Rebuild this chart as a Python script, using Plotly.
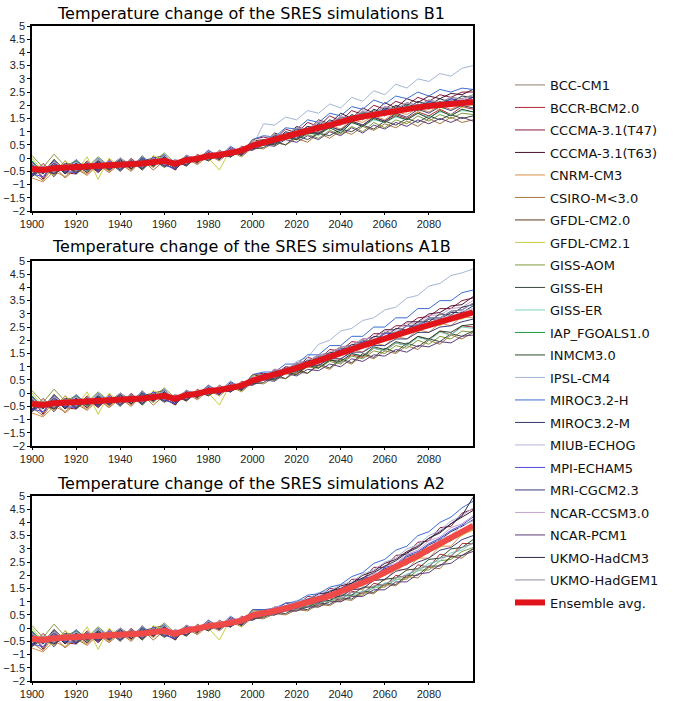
import plotly.graph_objects as go

YEARS = [1900, 1905, 1910, 1915, 1920, 1925, 1930, 1935, 1940, 1945, 1950, 1955, 1960, 1965, 1970,
         1975, 1980, 1985, 1990, 1995, 2000, 2005, 2010, 2015, 2020, 2025, 2030, 2035, 2040, 2045,
         2050, 2055, 2060, 2065, 2070, 2075, 2080, 2085, 2090, 2095, 2100]

MODELS = ["BCC-CM1", "BCCR-BCM2.0", "CCCMA-3.1(T47)", "CCCMA-3.1(T63)", "CNRM-CM3", "CSIRO-M<3.0",
          "GFDL-CM2.0", "GFDL-CM2.1", "GISS-AOM", "GISS-EH", "GISS-ER", "IAP_FGOALS1.0", "INMCM3.0",
          "IPSL-CM4", "MIROC3.2-H", "MIROC3.2-M", "MIUB-ECHOG", "MPI-ECHAM5", "MRI-CGCM2.3",
          "NCAR-CCSM3.0", "NCAR-PCM1", "UKMO-HadCM3", "UKMO-HadGEM1"]

COLORS = ["#8f8070", "#b02a35", "#8c1840", "#4a1430", "#d9904a", "#a8743e", "#5c3a1c", "#c8cc40",
          "#7f9c3c", "#3c4a3e", "#78d4bc", "#1f9a40", "#2c4a2c", "#a4b6d6", "#3c6cd4", "#2e3a68",
          "#b6b6dc", "#4c4ce0", "#3c3c7c", "#c4a4cc", "#5e3c7c", "#2c2c48", "#8e8e9c"]

# 1900-2000 (20th-century runs), 5-year samples
HIST = {
    "BCC-CM1":        [-0.1, -0.75, -0.05, -0.6, -0.15, -0.55, -0.05, -0.5, -0.05, -0.45, 0.1, -0.35, 0.1, -0.45, 0.12, -0.2, 0.3, -0.05, 0.4, 0.1, 0.6],
    "BCCR-BCM2.0":    [-0.65, -0.2, -0.6, -0.1, -0.55, -0.1, -0.5, -0.05, -0.45, 0.0, -0.4, 0.05, -0.3, -0.05, -0.3, 0.15, -0.1, 0.3, 0.05, 0.45, 0.3],
    "CCCMA-3.1(T47)": [-0.2, -0.8, -0.15, -0.55, -0.6, -0.2, -0.55, -0.15, -0.4, -0.05, -0.35, 0.0, -0.2, -0.45, 0.1, -0.2, 0.25, -0.05, 0.4, 0.15, 0.7],
    "CCCMA-3.1(T63)": [-0.6, -0.3, -0.7, -0.2, -0.25, -0.55, -0.1, -0.45, -0.15, -0.4, -0.05, -0.3, 0.05, -0.35, 0.05, -0.15, 0.2, -0.05, 0.35, 0.1, 0.55],
    "CNRM-CM3":       [-0.75, -0.9, -0.5, -0.7, -0.35, -0.6, -0.2, -0.5, -0.15, -0.45, -0.1, -0.35, 0.0, -0.4, 0.05, -0.2, 0.15, 0.0, 0.3, 0.2, 0.55],
    "CSIRO-M<3.0":    [-0.55, -0.85, -0.3, -0.75, -0.4, -0.65, -0.25, -0.55, -0.2, -0.5, -0.05, -0.45, -0.1, -0.4, 0.0, -0.25, 0.1, -0.1, 0.25, 0.05, 0.4],
    "GFDL-CM2.0":     [-0.15, -0.55, -0.05, -0.45, -0.1, -0.4, -0.2, -0.35, 0.0, -0.3, -0.1, 0.0, 0.1, -0.45, 0.1, -0.05, 0.25, 0.0, 0.35, 0.25, 0.65],
    "GFDL-CM2.1":     [0.0, -0.5, -0.65, -0.1, -0.5, 0.05, -0.8, 0.0, -0.35, -0.05, -0.45, 0.1, -0.1, -0.2, -0.1, 0.1, 0.0, -0.45, 0.35, 0.05, 0.7],
    "GISS-AOM":       [0.1, -0.35, 0.15, -0.3, -0.1, -0.35, 0.05, -0.3, 0.0, -0.25, -0.05, -0.15, 0.2, -0.2, 0.1, -0.1, 0.2, 0.05, 0.3, 0.15, 0.45],
    "GISS-EH":        [-0.6, -0.35, -0.55, -0.2, -0.55, -0.2, -0.45, -0.15, -0.4, -0.1, -0.4, -0.05, -0.3, -0.15, -0.25, 0.05, -0.05, 0.15, 0.05, 0.3, 0.35],
    "GISS-ER":        [-0.3, -0.6, -0.25, -0.45, -0.2, -0.45, -0.15, -0.4, -0.15, -0.35, -0.05, -0.3, 0.05, -0.35, 0.0, -0.1, 0.2, 0.0, 0.3, 0.15, 0.5],
    "IAP_FGOALS1.0":  [-0.1, -0.55, -0.15, -0.5, -0.1, -0.5, -0.05, -0.4, -0.05, -0.35, 0.0, -0.3, 0.1, -0.3, 0.05, -0.1, 0.2, 0.0, 0.35, 0.2, 0.55],
    "INMCM3.0":       [-0.7, -0.4, -0.6, -0.25, -0.6, -0.25, -0.5, -0.15, -0.5, -0.1, -0.45, -0.05, -0.35, -0.1, -0.3, 0.05, -0.1, 0.15, 0.05, 0.3, 0.35],
    "IPSL-CM4":       [-0.45, -0.3, -0.5, -0.25, -0.45, -0.2, -0.4, -0.15, -0.35, -0.1, -0.3, 0.0, -0.25, -0.05, -0.2, 0.1, 0.0, 0.25, 0.15, 0.4, 0.45],
    "MIROC3.2-H":     [-0.15, -0.6, -0.1, -0.5, -0.05, -0.45, 0.0, -0.35, 0.0, -0.3, 0.05, -0.25, 0.15, -0.35, 0.1, -0.05, 0.3, 0.05, 0.45, 0.2, 0.7],
    "MIROC3.2-M":     [-0.65, -0.35, -0.6, -0.3, -0.5, -0.2, -0.45, -0.15, -0.4, -0.1, -0.35, -0.05, -0.25, -0.4, -0.05, -0.15, 0.15, 0.0, 0.3, 0.15, 0.5],
    "MIUB-ECHOG":     [-0.25, -0.55, -0.2, -0.45, -0.15, -0.45, -0.15, -0.4, -0.05, -0.35, -0.05, -0.3, 0.05, -0.3, 0.05, -0.1, 0.2, 0.0, 0.3, 0.2, 0.55],
    "MPI-ECHAM5":     [-0.6, -0.7, -0.25, -0.5, -0.55, -0.15, -0.5, -0.1, -0.45, -0.05, -0.35, 0.05, -0.25, -0.4, 0.05, -0.15, 0.2, 0.05, 0.35, 0.15, 0.5],
    "MRI-CGCM2.3":    [-0.25, -0.6, -0.15, -0.55, -0.2, -0.45, -0.1, -0.45, -0.1, -0.4, -0.05, -0.3, 0.05, -0.3, 0.0, -0.1, 0.15, -0.05, 0.3, 0.1, 0.45],
    "NCAR-CCSM3.0":   [-0.2, -0.5, -0.15, -0.4, -0.15, -0.4, -0.05, -0.35, 0.0, -0.3, 0.0, -0.25, 0.1, -0.25, 0.1, -0.05, 0.25, 0.05, 0.35, 0.25, 0.6],
    "NCAR-PCM1":      [-0.65, -0.45, -0.6, -0.25, -0.55, -0.2, -0.5, -0.15, -0.45, -0.15, -0.4, -0.05, -0.3, -0.15, -0.25, 0.05, -0.05, 0.15, 0.05, 0.3, 0.3],
    "UKMO-HadCM3":    [-0.3, -0.55, -0.2, -0.6, -0.2, -0.45, -0.15, -0.4, -0.05, -0.4, 0.0, -0.3, 0.05, -0.35, 0.05, -0.15, 0.2, 0.0, 0.3, 0.15, 0.5],
    "UKMO-HadGEM1":   [-0.5, -0.3, -0.55, -0.2, -0.5, -0.15, -0.4, -0.15, -0.4, -0.05, -0.35, 0.0, -0.25, -0.1, -0.2, 0.1, -0.05, 0.25, 0.1, 0.4, 0.4],
}

# 2005-2100 scenario runs, 5-year samples
B1 = {
    "BCC-CM1":        [0.5, 0.8, 0.7, 1.05, 0.95, 1.3, 1.15, 1.5, 1.35, 1.7, 1.55, 1.85, 1.7, 2.0, 1.8, 2.1, 1.9, 2.2, 1.95, 2.2],
    "BCCR-BCM2.0":    [0.65, 0.5, 0.85, 0.7, 1.05, 0.9, 1.2, 1.05, 1.4, 1.25, 1.55, 1.4, 1.65, 1.5, 1.75, 1.6, 1.85, 1.65, 1.95, 1.85],
    "CCCMA-3.1(T47)": [0.8, 0.7, 1.1, 0.95, 1.35, 1.2, 1.6, 1.4, 1.8, 1.65, 2.0, 1.85, 2.15, 2.0, 2.3, 2.15, 2.4, 2.3, 2.5, 2.5],
    "CCCMA-3.1(T63)": [0.55, 0.95, 0.8, 1.2, 1.05, 1.45, 1.3, 1.7, 1.5, 1.9, 1.7, 2.1, 1.9, 2.25, 2.1, 2.35, 2.25, 2.45, 2.4, 2.6],
    "CNRM-CM3":       [0.6, 0.55, 0.8, 0.75, 1.05, 0.95, 1.25, 1.1, 1.45, 1.35, 1.6, 1.45, 1.75, 1.65, 1.9, 1.75, 2.0, 1.85, 2.05, 2.0],
    "CSIRO-M<3.0":    [0.35, 0.6, 0.5, 0.75, 0.6, 0.95, 0.75, 1.05, 0.9, 1.2, 1.05, 1.3, 1.15, 1.4, 1.2, 1.5, 1.3, 1.55, 1.35, 1.45],
    "GFDL-CM2.0":     [0.7, 0.6, 0.95, 0.85, 1.2, 1.0, 1.4, 1.25, 1.6, 1.45, 1.8, 1.6, 1.95, 1.75, 2.05, 1.85, 2.15, 1.95, 2.2, 2.1],
    "GFDL-CM2.1":     [0.5, 0.85, 0.7, 1.05, 0.9, 1.25, 1.1, 1.45, 1.3, 1.65, 1.45, 1.8, 1.6, 1.95, 1.7, 2.05, 1.8, 2.1, 1.9, 2.05],
    "GISS-AOM":       [0.6, 0.5, 0.75, 0.7, 0.9, 0.75, 1.05, 0.9, 1.2, 1.0, 1.35, 1.15, 1.45, 1.3, 1.6, 1.4, 1.65, 1.5, 1.7, 1.65],
    "GISS-EH":        [0.4, 0.65, 0.5, 0.85, 0.7, 0.95, 0.85, 1.1, 1.0, 1.25, 1.1, 1.4, 1.25, 1.5, 1.35, 1.6, 1.45, 1.65, 1.5, 1.6],
    "GISS-ER":        [0.6, 0.55, 0.8, 0.75, 1.0, 0.85, 1.2, 1.0, 1.35, 1.2, 1.45, 1.35, 1.55, 1.45, 1.7, 1.55, 1.75, 1.65, 1.8, 1.75],
    "IAP_FGOALS1.0":  [0.5, 0.8, 0.75, 1.0, 0.95, 1.25, 1.1, 1.45, 1.35, 1.7, 1.5, 1.85, 1.65, 2.0, 1.8, 2.1, 1.9, 2.15, 2.0, 2.1],
    "INMCM3.0":       [0.55, 0.5, 0.8, 0.7, 0.95, 0.9, 1.15, 0.95, 1.35, 1.2, 1.5, 1.35, 1.6, 1.45, 1.7, 1.5, 1.8, 1.6, 1.85, 1.75],
    "IPSL-CM4":       [1.3, 1.25, 1.55, 1.45, 1.8, 1.7, 2.05, 1.9, 2.3, 2.15, 2.55, 2.4, 2.8, 2.65, 3.0, 2.9, 3.2, 3.1, 3.4, 3.5],
    "MIROC3.2-H":     [0.85, 0.8, 1.15, 1.1, 1.45, 1.35, 1.7, 1.6, 1.95, 1.85, 2.2, 2.05, 2.35, 2.25, 2.5, 2.35, 2.6, 2.5, 2.65, 2.6],
    "MIROC3.2-M":     [0.55, 0.85, 0.8, 1.1, 1.0, 1.3, 1.2, 1.55, 1.45, 1.75, 1.6, 1.9, 1.8, 2.05, 1.9, 2.15, 2.05, 2.25, 2.15, 2.3],
    "MIUB-ECHOG":     [0.7, 0.65, 0.95, 0.9, 1.2, 1.05, 1.4, 1.25, 1.6, 1.45, 1.75, 1.6, 1.9, 1.75, 2.0, 1.85, 2.1, 1.95, 2.2, 2.15],
    "MPI-ECHAM5":     [0.5, 0.8, 0.75, 1.0, 0.95, 1.25, 1.15, 1.45, 1.4, 1.65, 1.55, 1.85, 1.75, 1.95, 1.85, 2.15, 1.95, 2.25, 2.1, 2.3],
    "MRI-CGCM2.3":    [0.6, 0.55, 0.8, 0.75, 1.0, 0.95, 1.2, 1.05, 1.4, 1.25, 1.55, 1.4, 1.7, 1.55, 1.85, 1.7, 1.95, 1.8, 2.0, 1.9],
    "NCAR-CCSM3.0":   [0.65, 0.9, 0.85, 1.15, 1.1, 1.4, 1.3, 1.6, 1.5, 1.8, 1.7, 1.95, 1.85, 2.1, 1.95, 2.2, 2.1, 2.3, 2.2, 2.35],
    "NCAR-PCM1":      [0.5, 0.45, 0.7, 0.6, 0.85, 0.7, 1.0, 0.85, 1.15, 0.95, 1.25, 1.1, 1.35, 1.2, 1.45, 1.3, 1.5, 1.35, 1.55, 1.4],
    "UKMO-HadCM3":    [0.7, 0.65, 1.0, 0.9, 1.2, 1.1, 1.45, 1.3, 1.65, 1.5, 1.85, 1.7, 2.0, 1.85, 2.15, 2.0, 2.25, 2.1, 2.35, 2.3],
    "UKMO-HadGEM1":   [0.6, 0.9, 0.85, 1.15, 1.05, 1.35, 1.3, 1.55, 1.5, 1.75, 1.7, 1.95, 1.85, 2.1, 2.0, 2.2, 2.1, 2.3, 2.25, 2.4],
}

A1B = {
    "BCC-CM1":        [0.5, 0.8, 0.75, 1.05, 1.0, 1.35, 1.3, 1.6, 1.55, 1.9, 1.85, 2.15, 2.1, 2.4, 2.35, 2.65, 2.6, 2.9, 2.85, 3.1],
    "BCCR-BCM2.0":    [0.6, 0.55, 0.8, 0.75, 1.0, 0.95, 1.25, 1.15, 1.45, 1.35, 1.7, 1.6, 1.9, 1.8, 2.15, 2.0, 2.35, 2.2, 2.55, 2.5],
    "CCCMA-3.1(T47)": [0.75, 0.7, 1.0, 0.95, 1.35, 1.25, 1.65, 1.6, 1.95, 1.9, 2.25, 2.25, 2.55, 2.55, 2.85, 2.9, 3.2, 3.2, 3.5, 3.6],
    "CCCMA-3.1(T63)": [0.6, 0.9, 0.85, 1.15, 1.2, 1.45, 1.5, 1.75, 1.8, 2.05, 2.1, 2.4, 2.4, 2.7, 2.7, 3.0, 3.05, 3.3, 3.35, 3.65],
    "CNRM-CM3":       [0.6, 0.5, 0.85, 0.75, 1.1, 1.0, 1.4, 1.25, 1.65, 1.55, 1.9, 1.8, 2.15, 2.05, 2.4, 2.3, 2.65, 2.55, 2.9, 2.85],
    "CSIRO-M<3.0":    [0.35, 0.6, 0.55, 0.8, 0.75, 1.05, 0.9, 1.25, 1.1, 1.45, 1.3, 1.6, 1.5, 1.8, 1.65, 2.0, 1.85, 2.2, 2.05, 2.3],
    "GFDL-CM2.0":     [0.7, 0.65, 0.9, 0.9, 1.2, 1.2, 1.45, 1.45, 1.75, 1.75, 2.0, 2.0, 2.3, 2.25, 2.55, 2.5, 2.8, 2.75, 3.0, 3.05],
    "GFDL-CM2.1":     [0.5, 0.8, 0.7, 1.0, 1.0, 1.3, 1.25, 1.55, 1.55, 1.85, 1.8, 2.1, 2.05, 2.35, 2.3, 2.6, 2.55, 2.85, 2.8, 3.0],
    "GISS-AOM":       [0.6, 0.5, 0.8, 0.7, 1.0, 0.95, 1.2, 1.1, 1.4, 1.3, 1.6, 1.5, 1.8, 1.7, 2.0, 1.85, 2.15, 2.05, 2.35, 2.3],
    "GISS-EH":        [0.4, 0.7, 0.55, 0.9, 0.75, 1.1, 0.95, 1.3, 1.15, 1.5, 1.35, 1.7, 1.55, 1.9, 1.75, 2.05, 1.95, 2.25, 2.15, 2.35],
    "GISS-ER":        [0.6, 0.55, 0.8, 0.8, 1.05, 0.95, 1.3, 1.15, 1.5, 1.4, 1.7, 1.6, 1.9, 1.8, 2.1, 2.0, 2.3, 2.2, 2.5, 2.45],
    "IAP_FGOALS1.0":  [0.55, 0.8, 0.8, 1.05, 1.05, 1.35, 1.3, 1.6, 1.6, 1.9, 1.85, 2.15, 2.15, 2.4, 2.4, 2.65, 2.65, 2.9, 2.9, 3.1],
    "INMCM3.0":       [0.55, 0.5, 0.8, 0.7, 1.05, 0.95, 1.25, 1.2, 1.5, 1.4, 1.75, 1.65, 1.95, 1.85, 2.15, 2.05, 2.35, 2.3, 2.55, 2.6],
    "IPSL-CM4":       [0.6, 0.85, 0.85, 1.2, 1.35, 1.85, 2.0, 2.35, 2.45, 2.75, 2.85, 3.15, 3.25, 3.6, 3.7, 4.05, 4.15, 4.45, 4.55, 4.7],
    "MIROC3.2-H":     [0.8, 0.8, 1.1, 1.1, 1.45, 1.45, 1.8, 1.8, 2.15, 2.15, 2.5, 2.5, 2.85, 2.85, 3.2, 3.2, 3.5, 3.5, 3.8, 3.9],
    "MIROC3.2-M":     [0.55, 0.85, 0.8, 1.1, 1.1, 1.4, 1.4, 1.7, 1.65, 2.0, 1.95, 2.3, 2.25, 2.55, 2.5, 2.8, 2.8, 3.05, 3.05, 3.3],
    "MIUB-ECHOG":     [0.7, 0.65, 0.95, 0.9, 1.2, 1.2, 1.5, 1.5, 1.8, 1.8, 2.05, 2.1, 2.35, 2.35, 2.6, 2.65, 2.85, 2.9, 3.1, 3.2],
    "MPI-ECHAM5":     [0.5, 0.8, 0.75, 1.05, 1.05, 1.35, 1.35, 1.65, 1.65, 1.95, 1.95, 2.25, 2.25, 2.55, 2.55, 2.85, 2.85, 3.1, 3.15, 3.4],
    "MRI-CGCM2.3":    [0.6, 0.55, 0.85, 0.8, 1.05, 1.05, 1.3, 1.3, 1.55, 1.55, 1.8, 1.8, 2.05, 2.05, 2.3, 2.3, 2.5, 2.55, 2.7, 2.8],
    "NCAR-CCSM3.0":   [0.6, 0.9, 0.9, 1.15, 1.2, 1.45, 1.5, 1.75, 1.8, 2.05, 2.1, 2.35, 2.4, 2.65, 2.65, 2.95, 2.95, 3.2, 3.25, 3.5],
    "NCAR-PCM1":      [0.5, 0.45, 0.75, 0.65, 0.9, 0.85, 1.1, 1.0, 1.3, 1.2, 1.45, 1.4, 1.65, 1.55, 1.8, 1.75, 1.95, 1.9, 2.15, 2.2],
    "UKMO-HadCM3":    [0.7, 0.65, 0.95, 0.95, 1.25, 1.2, 1.55, 1.5, 1.85, 1.8, 2.15, 2.1, 2.45, 2.4, 2.7, 2.7, 3.0, 2.95, 3.25, 3.35],
    "UKMO-HadGEM1":   [0.55, 0.85, 0.85, 1.1, 1.15, 1.4, 1.45, 1.7, 1.75, 2.0, 2.0, 2.3, 2.3, 2.55, 2.6, 2.85, 2.85, 3.1, 3.15, 3.4],
}

A2 = {
    "BCC-CM1":        [0.5, 0.7, 0.7, 0.9, 0.9, 1.15, 1.15, 1.45, 1.45, 1.8, 1.85, 2.2, 2.25, 2.6, 2.7, 3.05, 3.15, 3.5, 3.6, 3.95],
    "BCCR-BCM2.0":    [0.55, 0.5, 0.7, 0.65, 0.9, 0.85, 1.15, 1.05, 1.4, 1.3, 1.7, 1.6, 2.0, 1.9, 2.4, 2.3, 2.8, 2.7, 3.2, 3.2],
    "CCCMA-3.1(T47)": [0.7, 0.65, 0.95, 0.85, 1.2, 1.15, 1.5, 1.45, 1.85, 1.85, 2.3, 2.3, 2.75, 2.8, 3.25, 3.3, 3.8, 3.85, 4.35, 4.5],
    "CCCMA-3.1(T63)": [0.55, 0.8, 0.8, 1.0, 1.05, 1.3, 1.35, 1.6, 1.7, 2.0, 2.15, 2.45, 2.6, 2.9, 3.1, 3.4, 3.65, 3.95, 4.2, 4.45],
    "CNRM-CM3":       [0.55, 0.5, 0.75, 0.7, 0.95, 0.9, 1.2, 1.15, 1.5, 1.45, 1.85, 1.8, 2.25, 2.2, 2.65, 2.65, 3.1, 3.1, 3.55, 3.7],
    "CSIRO-M<3.0":    [0.35, 0.55, 0.5, 0.7, 0.65, 0.9, 0.85, 1.1, 1.05, 1.35, 1.3, 1.65, 1.6, 1.95, 1.9, 2.3, 2.25, 2.7, 2.65, 3.0],
    "GFDL-CM2.0":     [0.65, 0.6, 0.85, 0.8, 1.05, 1.05, 1.3, 1.3, 1.6, 1.65, 1.95, 2.05, 2.35, 2.45, 2.75, 2.9, 3.2, 3.35, 3.65, 3.85],
    "GFDL-CM2.1":     [0.5, 0.7, 0.7, 0.9, 0.9, 1.1, 1.15, 1.4, 1.45, 1.7, 1.8, 2.05, 2.2, 2.45, 2.6, 2.9, 3.05, 3.35, 3.5, 3.75],
    "GISS-AOM":       [0.55, 0.5, 0.7, 0.65, 0.85, 0.8, 1.05, 1.0, 1.25, 1.25, 1.55, 1.55, 1.85, 1.85, 2.2, 2.2, 2.55, 2.6, 2.9, 3.05],
    "GISS-EH":        [0.4, 0.6, 0.55, 0.75, 0.7, 0.95, 0.9, 1.15, 1.1, 1.4, 1.35, 1.7, 1.65, 2.0, 2.0, 2.35, 2.35, 2.7, 2.75, 3.0],
    "GISS-ER":        [0.55, 0.55, 0.7, 0.75, 0.85, 0.95, 1.05, 1.15, 1.25, 1.4, 1.5, 1.7, 1.8, 2.05, 2.15, 2.45, 2.55, 2.85, 2.95, 3.25],
    "IAP_FGOALS1.0":  [0.6, 0.6, 0.85, 0.8, 1.05, 1.05, 1.3, 1.3, 1.6, 1.65, 1.95, 2.0, 2.35, 2.4, 2.75, 2.85, 3.2, 3.3, 3.65, 3.85],
    "INMCM3.0":       [0.45, 0.6, 0.65, 0.8, 0.8, 1.0, 1.05, 1.25, 1.25, 1.55, 1.55, 1.85, 1.9, 2.2, 2.25, 2.6, 2.65, 3.0, 3.05, 3.35],
    "IPSL-CM4":       [0.6, 0.8, 0.85, 1.05, 1.1, 1.35, 1.4, 1.65, 1.75, 2.05, 2.2, 2.5, 2.65, 3.0, 3.15, 3.5, 3.7, 4.05, 4.25, 4.55],
    "MIROC3.2-H":     [0.7, 0.75, 0.95, 1.0, 1.25, 1.3, 1.55, 1.65, 1.95, 2.1, 2.45, 2.6, 2.95, 3.1, 3.5, 3.65, 4.0, 4.2, 4.55, 4.8],
    "MIROC3.2-M":     [0.5, 0.75, 0.75, 0.95, 0.95, 1.2, 1.25, 1.5, 1.55, 1.85, 1.95, 2.25, 2.35, 2.7, 2.85, 3.15, 3.35, 3.65, 3.85, 4.1],
    "MIUB-ECHOG":     [0.65, 0.6, 0.85, 0.8, 1.1, 1.05, 1.35, 1.35, 1.65, 1.7, 2.05, 2.1, 2.45, 2.55, 2.9, 3.0, 3.4, 3.5, 3.9, 4.05],
    "MPI-ECHAM5":     [0.5, 0.75, 0.7, 0.95, 0.95, 1.2, 1.25, 1.5, 1.55, 1.9, 1.95, 2.3, 2.4, 2.75, 2.9, 3.2, 3.4, 3.7, 3.9, 4.2],
    "MRI-CGCM2.3":    [0.55, 0.55, 0.75, 0.75, 0.95, 0.95, 1.2, 1.2, 1.45, 1.5, 1.8, 1.85, 2.15, 2.25, 2.5, 2.65, 2.95, 3.05, 3.35, 3.5],
    "NCAR-CCSM3.0":   [0.55, 0.8, 0.8, 1.0, 1.05, 1.25, 1.3, 1.55, 1.65, 1.9, 2.05, 2.35, 2.45, 2.8, 2.95, 3.3, 3.45, 3.8, 3.95, 4.25],
    "NCAR-PCM1":      [0.5, 0.5, 0.65, 0.65, 0.8, 0.8, 1.0, 1.0, 1.2, 1.2, 1.45, 1.45, 1.75, 1.75, 2.05, 2.1, 2.4, 2.45, 2.75, 2.9],
    "UKMO-HadCM3":    [0.6, 0.65, 0.85, 0.9, 1.1, 1.15, 1.4, 1.5, 1.7, 1.9, 2.1, 2.35, 2.55, 2.85, 3.05, 3.4, 3.6, 3.95, 4.25, 4.95],
    "UKMO-HadGEM1":   [0.55, 0.55, 0.75, 0.7, 0.95, 0.9, 1.15, 1.1, 1.35, 1.35, 1.6, 1.65, 1.9, 2.0, 2.25, 2.35, 2.65, 2.75, 3.05, 3.2],
}

ENS_HIST = [-0.4, -0.45, -0.38, -0.36, -0.35, -0.32, -0.3, -0.28, -0.25, -0.23, -0.2, -0.15, -0.1, -0.22, -0.08,
            -0.02, 0.08, 0.12, 0.22, 0.28, 0.48]
ENS_B1 = [0.6, 0.7, 0.82, 0.95, 1.05, 1.15, 1.25, 1.38, 1.48, 1.57, 1.65, 1.72, 1.8, 1.86, 1.92, 1.97, 2.02, 2.06, 2.09, 2.12]
ENS_A1B = [0.58, 0.7, 0.82, 0.95, 1.1, 1.25, 1.38, 1.52, 1.67, 1.8, 1.93, 2.07, 2.2, 2.32, 2.45, 2.57, 2.7, 2.82, 2.95, 3.06]
ENS_A2 = [0.55, 0.65, 0.75, 0.85, 0.97, 1.1, 1.22, 1.37, 1.53, 1.72, 1.9, 2.1, 2.3, 2.52, 2.74, 2.97, 3.2, 3.43, 3.65, 3.87]

TITLES = ["Temperature change of the SRES simulations B1",
          "Temperature change of the SRES simulations A1B",
          "Temperature change of the SRES simulations A2"]
Y_TICKS = [-2, -1.5, -1, -0.5, 0, 0.5, 1, 1.5, 2, 2.5, 3, 3.5, 4, 4.5, 5]
Y_TICK_TEXT = ["\u22122", "\u22121.5", "\u22121", "\u22120.5", "0", "0.5", "1", "1.5", "2", "2.5", "3",
               "3.5", "4", "4.5", "5"]
X_TICKS = [1900, 1920, 1940, 1960, 1980, 2000, 2020, 2040, 2060, 2080]

W, H = 673, 701
X0, X1 = 32, 473
PANELS_PX = [(26, 211), (261, 446), (496, 681)]
TITLE_Y_PX = [13, 247, 483]

scenarios = [(B1, ENS_B1, "#e0141a"), (A1B, ENS_A1B, "#e0141a"), (A2, ENS_A2, "#ef4a48")]

fig = go.Figure()
for p, (scen, ens, ens_color) in enumerate(scenarios):
    xa = "x" if p == 0 else f"x{p + 1}"
    ya = "y" if p == 0 else f"y{p + 1}"
    for m, c in zip(MODELS, COLORS):
        fig.add_trace(go.Scatter(
            x=YEARS, y=HIST[m] + scen[m], mode="lines", name=m,
            line=dict(color=c, width=1), legendgroup=m, showlegend=(p == 0),
            xaxis=xa, yaxis=ya))
    fig.add_trace(go.Scatter(
        x=YEARS, y=ENS_HIST + ens, mode="lines", name="Ensemble avg.",
        line=dict(color=ens_color, width=6), legendgroup="ens", showlegend=(p == 0),
        xaxis=xa, yaxis=ya))

axis_font = dict(family="Liberation Sans", size=11, color="#222")
layout = dict(
    width=W, height=H, margin=dict(l=0, r=0, t=0, b=0, autoexpand=False),
    paper_bgcolor="white", plot_bgcolor="white",
    showlegend=True,
    legend=dict(x=510 / W, y=1 - 70 / H, xanchor="left", yanchor="top",
                font=dict(family="DejaVu Sans", size=13, color="#111"),
                tracegroupgap=2.6, itemwidth=30, bgcolor="rgba(0,0,0,0)",
                traceorder="grouped"),
)
annotations = []
for p, (top, bot) in enumerate(PANELS_PX):
    sfx = "" if p == 0 else str(p + 1)
    layout["xaxis" + sfx] = dict(
        domain=[X0 / W, X1 / W], anchor="y" + sfx, range=[1900, 2100], automargin=False,
        tickmode="array", tickvals=X_TICKS, ticks="outside", ticklen=2, tickcolor="black",
        showline=True, linecolor="black", linewidth=1.5, mirror=True,
        showgrid=False, zeroline=False, tickfont=axis_font)
    layout["yaxis" + sfx] = dict(
        domain=[1 - bot / H, 1 - top / H], anchor="x" + sfx, range=[-2, 5], automargin=False,
        tickmode="array", tickvals=Y_TICKS, ticktext=Y_TICK_TEXT,
        ticks="outside", ticklen=3, tickcolor="black",
        showline=True, linecolor="black", linewidth=1.5, mirror=True,
        showgrid=False, zeroline=False, tickfont=axis_font)
    annotations.append(dict(
        text=TITLES[p], x=251 / W, y=1 - TITLE_Y_PX[p] / H, xref="paper", yref="paper",
        xanchor="center", yanchor="middle", showarrow=False,
        font=dict(family="DejaVu Sans", size=16, color="black")))
layout["annotations"] = annotations
fig.update_layout(**layout)
fig.write_html("out.html")
